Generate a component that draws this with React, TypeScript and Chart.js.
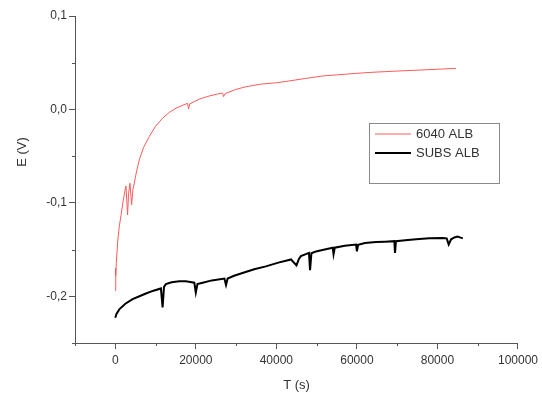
import React, { useEffect, useRef } from 'react';
import { Chart, registerables } from 'chart.js';

Chart.register(...registerables);

// Series 6040 ALB (red)
const redT = [0, 80, 150, 250, 570, 1000, 1400, 2000, 2400, 2650, 3060, 3300, 3650, 4060, 4400, 4720, 5300, 5960, 7000, 8450, 10000, 11750, 13500, 15080, 16500, 17960, 18200, 18500, 20870, 23000, 25400, 26650, 26900, 27300, 30000, 32460, 36000, 40000, 43230, 47000, 51500, 55000, 59800, 64000, 69740, 75000, 80000, 84640];
const redE = [-0.194, -0.17, -0.178, -0.165, -0.143, -0.125, -0.114, -0.097, -0.087, -0.082, -0.113, -0.09, -0.079, -0.102, -0.085, -0.079, -0.066, -0.054, -0.041, -0.029, -0.018, -0.0094, -0.003, 0.0013, 0.004, 0.0065, 0.0005, 0.006, 0.011, 0.014, 0.0165, 0.0175, 0.0137, 0.017, 0.0215, 0.0243, 0.027, 0.0285, 0.0305, 0.033, 0.0358, 0.037, 0.0386, 0.0398, 0.041, 0.042, 0.043, 0.044];

// Series SUBS ALB (black)
const blackT = [0, 300, 1000, 2500, 4300, 6000, 7600, 9500, 11330, 11750, 12100, 12570, 14000, 15900, 17500, 19630, 20000, 20400, 21700, 24000, 27100, 27500, 27900, 29500, 31600, 34500, 37400, 40500, 43650, 45000, 45600, 46100, 48100, 48370, 48700, 49860, 52000, 54000, 54200, 54500, 57000, 59800, 60000, 60300, 62000, 64750, 67000, 69300, 69460, 69700, 72000, 74700, 78000, 81300, 82300, 82800, 83400, 84200, 85000, 85600, 86300];
const blackE = [-0.223, -0.219, -0.214, -0.208, -0.203, -0.2, -0.197, -0.194, -0.1916, -0.212, -0.19, -0.187, -0.185, -0.184, -0.184, -0.1855, -0.196, -0.187, -0.1855, -0.183, -0.181, -0.188, -0.181, -0.178, -0.175, -0.171, -0.168, -0.164, -0.1606, -0.167, -0.16, -0.157, -0.1535, -0.172, -0.154, -0.152, -0.15, -0.148, -0.155, -0.148, -0.146, -0.1446, -0.152, -0.145, -0.143, -0.142, -0.1415, -0.141, -0.1535, -0.141, -0.14, -0.139, -0.138, -0.1375, -0.138, -0.1446, -0.139, -0.137, -0.136, -0.137, -0.138];

const seriesLabels = ['6040 ALB', 'SUBS ALB'];
const seriesColors = ['#ff5a5a', '#000000'];
const seriesWidths = [1, 2];
const xTitle = 'T (s)';
const yTitle = 'E (V)';

const axisColor = '#555555';
const textColor = '#333333';
const fontFamily = 'Arial, "Liberation Sans", sans-serif';

export default function App() {
  const ref = useRef<HTMLCanvasElement>(null);

  useEffect(() => {
    const canvas = ref.current;
    if (!canvas) return;

    const overlay = {
      id: 'overlay',
      afterDraw(chart: any) {
        const c = chart.ctx;
        const xs = chart.scales.x;
        const ys = chart.scales.y;
        c.save();
        // minor ticks
        c.strokeStyle = axisColor;
        c.lineWidth = 1;
        for (let v = -10000; v <= 100000; v += 20000) {
          const px = Math.round(xs.getPixelForValue(v)) + 0.5;
          c.beginPath();
          c.moveTo(px, xs.top);
          c.lineTo(px, xs.top + 3);
          c.stroke();
        }
        for (let v = -0.25; v <= 0.1; v += 0.1) {
          const py = Math.round(ys.getPixelForValue(v)) + 0.5;
          c.beginPath();
          c.moveTo(ys.right, py);
          c.lineTo(ys.right - 3, py);
          c.stroke();
        }
        // y title
        c.fillStyle = textColor;
        c.font = `13px ${fontFamily}`;
        c.textAlign = 'center';
        c.textBaseline = 'middle';
        c.translate(22, 152);
        c.rotate(-Math.PI / 2);
        c.fillText(yTitle, 0, 0);
        c.restore();

        // legend
        c.save();
        const lx = 369, ly = 123, lw = 130, lh = 60;
        c.fillStyle = '#ffffff';
        c.fillRect(lx, ly, lw, lh);
        c.strokeStyle = '#8a8a8a';
        c.lineWidth = 1;
        c.strokeRect(lx + 0.5, ly + 0.5, lw, lh);
        c.font = `13px ${fontFamily}`;
        c.textAlign = 'left';
        c.textBaseline = 'middle';
        chart.data.datasets.forEach((ds: any, i: number) => {
          const y = ly + 11 + i * 19;
          c.strokeStyle = ds.borderColor;
          c.lineWidth = ds.borderWidth;
          c.beginPath();
          c.moveTo(lx + 6, y);
          c.lineTo(lx + 42, y);
          c.stroke();
          c.fillStyle = textColor;
          c.fillText(ds.label, lx + 47, y);
        });
        c.restore();
      },
    };

    const tickGrid = {
      display: true,
      drawOnChartArea: false,
      drawTicks: true,
      tickLength: 6,
      tickColor: axisColor,
    };

    const chart = new Chart(canvas, {
      type: 'line',
      data: {
        datasets: [
          {
            label: seriesLabels[0],
            data: redT.map((t, i) => ({ x: t, y: redE[i] })),
            borderColor: seriesColors[0],
            borderWidth: seriesWidths[0],
            pointRadius: 0,
            tension: 0,
            fill: false,
          },
          {
            label: seriesLabels[1],
            data: blackT.map((t, i) => ({ x: t, y: blackE[i] })),
            borderColor: seriesColors[1],
            borderWidth: seriesWidths[1],
            pointRadius: 0,
            tension: 0,
            fill: false,
          },
        ],
      },
      options: {
        responsive: false,
        animation: false,
        devicePixelRatio: 1,
        layout: { padding: { left: 0, top: 16, right: 23, bottom: 0 } },
        plugins: {
          legend: { display: false },
          tooltip: { enabled: false },
        },
        scales: {
          x: {
            type: 'linear',
            min: -10000,
            max: 100000,
            afterFit: (s: any) => { s.height = 53; },
            border: { display: true, color: axisColor, width: 1 },
            grid: tickGrid,
            ticks: {
              stepSize: 20000,
              color: textColor,
              font: { size: 12, family: fontFamily },
              padding: 4,
              maxRotation: 0,
              autoSkip: false,
              callback: (v: any) => String(Math.round(Number(v))),
            },
            afterBuildTicks: (s: any) => {
              s.ticks = [0, 20000, 40000, 60000, 80000, 100000].map((v) => ({ value: v }));
            },
            title: {
              display: true,
              text: xTitle,
              color: textColor,
              font: { size: 13, family: fontFamily },
              padding: { top: 0, bottom: 3 },
            },
          },
          y: {
            type: 'linear',
            min: -0.25,
            max: 0.1,
            afterFit: (s: any) => { s.width = 75; },
            border: { display: true, color: axisColor, width: 1 },
            grid: tickGrid,
            afterBuildTicks: (s: any) => {
              s.ticks = [-0.2, -0.1, 0, 0.1].map((v) => ({ value: v }));
            },
            ticks: {
              color: textColor,
              font: { size: 12, family: fontFamily },
              padding: 2,
              autoSkip: false,
              callback: (v: any) => {
                let r = Math.round(Number(v) * 10) / 10;
                if (Math.abs(r) < 1e-9) r = 0;
                return r.toFixed(1).replace('.', ',');
              },
            },
          },
        },
      },
      plugins: [overlay],
    });

    return () => chart.destroy();
  }, []);

  return (
    <div style={{ position: 'fixed', left: 0, top: 0, width: 542, height: 396, background: '#ffffff' }}>
      <canvas ref={ref} width={542} height={396} />
    </div>
  );
}
